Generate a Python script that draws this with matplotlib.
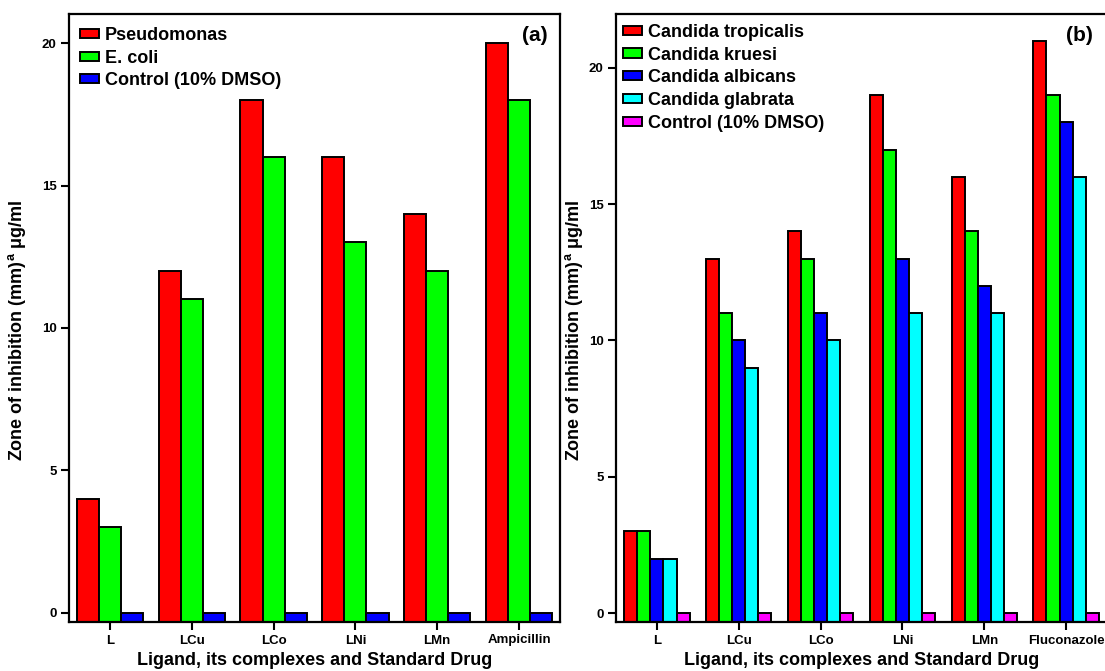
import numpy as np
import matplotlib
matplotlib.use("Agg")
import matplotlib.pyplot as plt

plt.rcParams['font.family'] = ['Liberation Sans', 'DejaVu Sans']
plt.rcParams['font.weight'] = 'bold'
plt.rcParams['mathtext.fontset'] = 'custom'
plt.rcParams['mathtext.rm'] = 'Liberation Sans:bold'
plt.rcParams['mathtext.it'] = 'Liberation Sans:bold'
plt.rcParams['mathtext.bf'] = 'Liberation Sans:bold'
plt.rcParams['mathtext.default'] = 'regular'

# ---- data ----
cats_a = ["L", "LCu", "LCo", "LNi", "LMn", "Ampicillin"]
pseudomonas = [4, 12, 18, 16, 14, 20]
ecoli = [3, 11, 16, 13, 12, 18]
control_a = [0, 0, 0, 0, 0, 0]
names_a = ["Pseudomonas", "E. coli", "Control (10% DMSO)"]

cats_b = ["L", "LCu", "LCo", "LNi", "LMn", "Fluconazole"]
tropicalis = [3, 13, 14, 19, 16, 21]
kruesi = [3, 11, 13, 17, 14, 19]
albicans = [2, 10, 11, 13, 12, 18]
glabrata = [2, 9, 10, 11, 11, 16]
control_b = [0, 0, 0, 0, 0, 0]
names_b = ["Candida tropicalis", "Candida kruesi", "Candida albicans",
           "Candida glabrata", "Control (10% DMSO)"]

colors = ["#FF0000", "#00FF00", "#0000FF", "#00FFFF", "#FF00FF"]

W, H = 1105, 671
fig = plt.figure(figsize=(W / 100, H / 100), dpi=100)

def px_axes(l, r, t, b):
    return fig.add_axes([l / W, 1 - b / H, (r - l) / W, (b - t) / H])

ax1 = px_axes(69, 560, 14, 622)
ax2 = px_axes(616, 1107, 14, 622)

def draw(ax, cats, series, names, width, ylo, yhi, leg_xy, tag, tag_xy, ylab_x):
    x = np.arange(len(cats))
    n = len(series)
    for i, (vals, nm) in enumerate(zip(series, names)):
        off = (i - (n - 1) / 2) * width
        v = np.asarray(vals, dtype=float)
        ax.bar(x + off, v - ylo, bottom=ylo, width=width, color=colors[i],
               edgecolor='black', linewidth=1.4, label=nm, align='center')
    ax.set_xlim(-0.5, len(cats) - 0.5)
    ax.set_ylim(ylo, yhi)
    ax.set_xticks(x)
    ax.set_xticklabels(cats, fontsize=9.5, fontweight='bold')
    ax.set_yticks([0, 5, 10, 15, 20])
    ax.set_yticklabels(["0", "5", "10", "15", "20"], fontsize=9.5, fontweight='bold')
    ax.tick_params(axis='both', direction='out', length=6, width=1.5, pad=3,
                   top=False, right=False)
    for s in ax.spines.values():
        s.set_linewidth(1.6)
        s.set_color('black')
    ax.set_xlabel("Ligand, its complexes and Standard Drug", fontsize=13,
                  fontweight='bold', labelpad=4)
    ax.set_ylabel("Zone of inhibition (mm)$^{a}$ μg/ml", fontsize=13,
                  fontweight='bold')
    ax.yaxis.set_label_coords(ylab_x, 0.48)
    ax.legend(loc='upper left', bbox_to_anchor=leg_xy, frameon=False,
              prop={'weight': 'bold', 'size': 13},
              handlelength=1.05, handleheight=0.4, handletextpad=0.33,
              labelspacing=0.32, borderaxespad=0, borderpad=0)
    ax.text(tag_xy[0], tag_xy[1], tag, transform=ax.transAxes, fontsize=15,
            fontweight='bold', ha='center', va='center')

draw(ax1, cats_a, [pseudomonas, ecoli, control_a], names_a, 0.27,
     -0.32, 21.02, (0.0224, 0.979), "(a)", (0.949, 0.964), -0.0825)
draw(ax2, cats_b, [tropicalis, kruesi, albicans, glabrata, control_b], names_b,
     0.16, -0.33, 21.98, (0.0143, 0.984), "(b)", (0.943, 0.965), -0.063)

fig.savefig("out.png", dpi=100)
